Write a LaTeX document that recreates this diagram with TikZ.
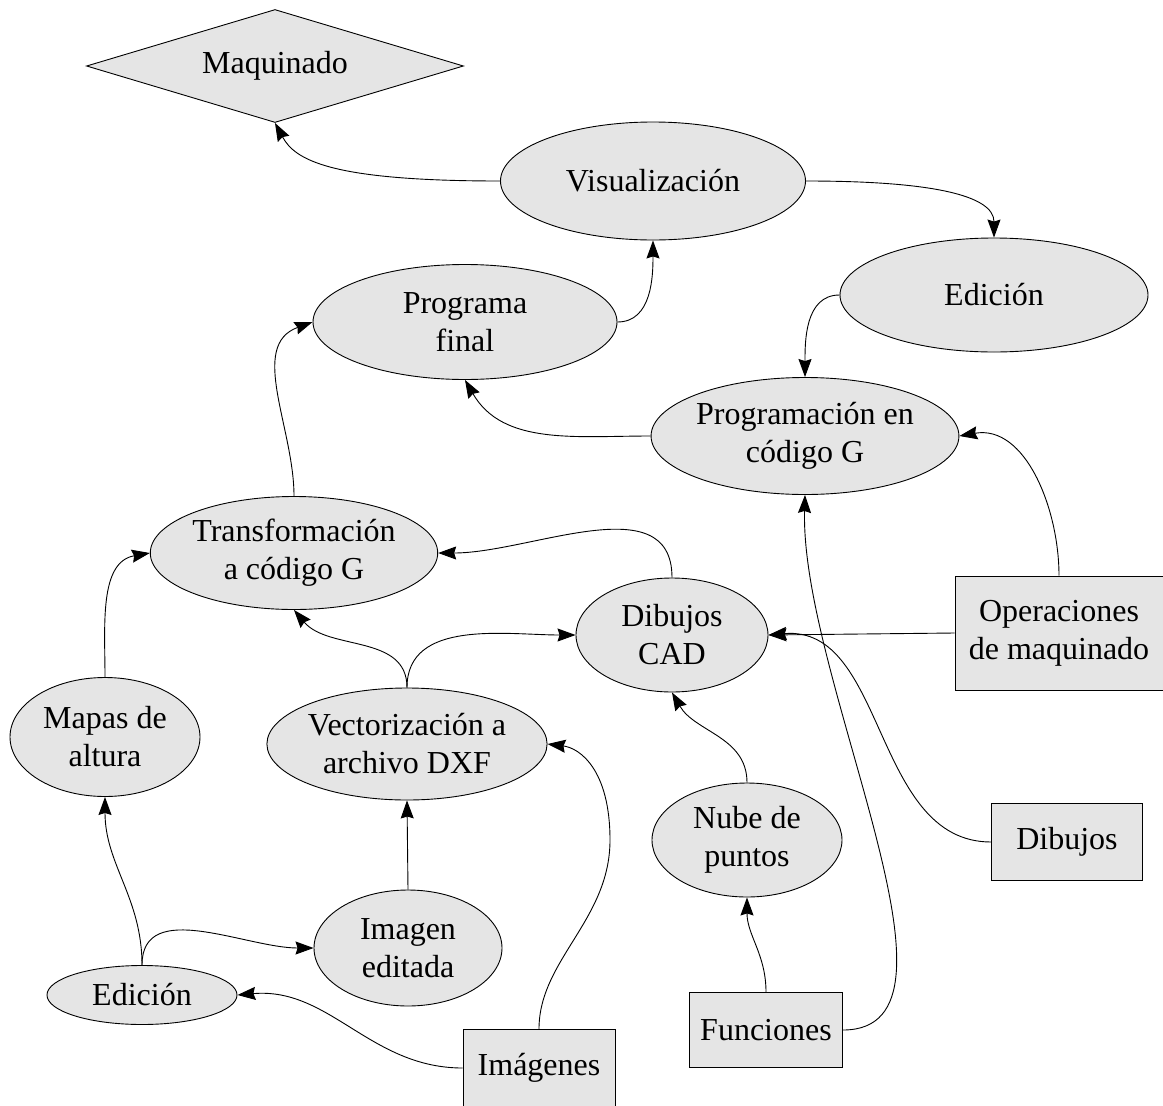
\documentclass[tikz,border=0pt]{standalone}
\usepackage{fontspec}
\setmainfont{Liberation Serif}
\usetikzlibrary{shapes.geometric,arrows.meta}

\begin{document}
\begin{tikzpicture}[x=1pt, y=1pt, line width=0.9pt,
  every node/.style={draw, fill=gray!20, align=center, inner sep=0pt, font=\fontsize{32}{38}\selectfont},
  elip/.style={ellipse},
  caja/.style={rectangle},
  flecha/.style={-{Stealth[length=18pt, width=13pt, inset=2pt]}}]
  \useasboundingbox (0,0) rectangle (1163,-1106);

  \node[diamond, shape aspect=3.34, minimum width=377pt, minimum height=113pt] (maq) at (275,-66) {Maquinado};
  \node[elip, minimum width=305pt, minimum height=118pt] (vis) at (653,-181) {Visualización};
  \node[elip, minimum width=308pt, minimum height=114pt] (edi) at (994,-295) {Edición};
  \node[elip, minimum width=304pt, minimum height=115pt] (prog) at (465,-322) {Programa\\final};
  \node[elip, minimum width=305pt, minimum height=117pt] (pcg) at (805,-436) {Programación en\\código G};
  \node[elip, minimum width=262pt, minimum height=113pt] (trans) at (294,-553) {Transformación\\a código G};
  \node[elip, minimum width=192pt, minimum height=114pt] (cad) at (672,-635) {Dibujos\\CAD};
  \node[caja, minimum width=208pt, minimum height=114pt] (ops) at (1059,-633) {Operaciones\\de maquinado};
  \node[elip, minimum width=190pt, minimum height=119pt] (mapas) at (105,-737) {Mapas de\\altura};
  \node[elip, minimum width=263pt, minimum height=112pt] (vec) at (407,-744) {Vectorización a\\archivo DXF};
  \node[elip, minimum width=190pt, minimum height=114pt] (nube) at (747,-840) {Nube de\\puntos};
  \node[caja, minimum width=151pt, minimum height=77pt] (dib) at (1067,-842) {Dibujos};
  \node[elip, minimum width=188pt, minimum height=116pt] (edt) at (408,-948) {Imagen\\editada};
  \node[elip, minimum width=190pt, minimum height=59pt] (edb) at (142,-995) {Edición};
  \node[caja, minimum width=152pt, minimum height=77pt] (img) at (539,-1068) {Imágenes};
  \node[caja, minimum width=153pt, minimum height=75pt] (fun) at (766,-1030) {Funciones};

  % conexiones
  \draw[flecha] (vis.west) .. controls (330,-181) and (295,-160) .. (maq.south);
  \draw[flecha] (vis.east) .. controls (930,-181) and (994,-195) .. (edi.north);
  \draw[flecha] (prog.east) to[out=0, in=-90] (vis.south);
  \draw[flecha] (edi.west) to[out=180, in=90] (pcg.north);
  \draw[flecha] (pcg.west) to[out=180, in=-60] (prog.south);
  \draw[flecha] (trans.north) to[out=90, in=200] (prog.west);
  \draw[flecha] (cad.north) to[out=90, in=0] (trans.east);
  \draw[flecha] (ops.north) to[out=90, in=10] (pcg.east);
  \draw[flecha] (ops.west) -- (cad.east);
  \draw[flecha] (mapas.north) to[out=90, in=190] (trans.west);
  \draw[flecha] (vec.north) to[out=90, in=-50] (trans.south);
  \draw[flecha] (vec.north) to[out=90, in=180] (cad.west);
  \draw[flecha] (img.north) .. controls (539,-960) and (610,-920) .. (610,-840)
    .. controls (610,-770) and (580,-748) .. (vec.east);
  \draw[flecha] (edt.north) -- (vec.south);
  \draw[flecha] (nube.north) to[out=90, in=-60] (cad.south);
  \draw[flecha] (dib.west) to[out=180, in=5] (cad.east);
  \draw[flecha] (fun.east) .. controls (985,-1030) and (800,-680) .. (pcg.south);
  \draw[flecha] (fun.north) to[out=90, in=-90] (nube.south);
  \draw[flecha] (edb.north) to[out=90, in=-90] (mapas.south);
  \draw[flecha] (edb.north) to[out=90, in=180] (edt.west);
  \draw[flecha] (img.west) to[out=180, in=5] (edb.east);
\end{tikzpicture}
\end{document}
